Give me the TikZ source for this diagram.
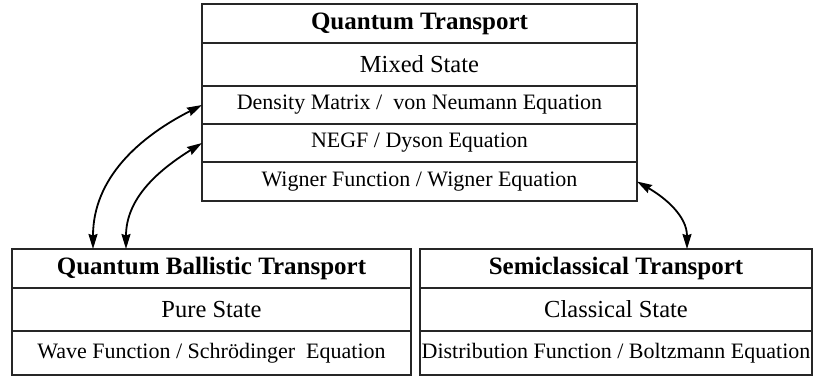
\documentclass[tikz,border=0pt]{standalone}
\usepackage{fontspec}
\setmainfont{Liberation Serif}
\usetikzlibrary{arrows.meta}
\begin{document}
\begin{tikzpicture}[x=1pt,y=1pt,
  >={Stealth[length=15pt,width=9pt,inset=1.5pt]},
  cell/.style={draw=black!85, line width=1.2pt, inner sep=0pt, outer sep=0pt, align=center},
  toprow/.style={cell, minimum width=435pt},
  leftrow/.style={cell, minimum width=399pt},
  rightrow/.style={cell, minimum width=392pt},
  titlef/.style={font=\fontsize{25}{30}\selectfont\bfseries},
  statef/.style={font=\fontsize{24.5}{29}\selectfont},
  eqf/.style={font=\fontsize{22}{26}\selectfont},
  link/.style={<->, line width=1.8pt, black}]
\useasboundingbox (0,0) rectangle (813,376);
% top box
\node[toprow, titlef, minimum height=39pt] (qt1) at (419.5,352.5) {Quantum Transport};
\node[toprow, statef, minimum height=43pt] (qt2) at (419.5,311.5) {Mixed State};
\node[toprow, eqf, minimum height=38pt] (qt3) at (419.5,271) {Density Matrix /\ \ von Neumann Equation};
\node[toprow, eqf, minimum height=38pt] (qt4) at (419.5,233) {NEGF / Dyson Equation};
\node[toprow, eqf, minimum height=39pt] (qt5) at (419.5,194.5) {Wigner Function / Wigner Equation};
% bottom left box
\node[leftrow, titlef, minimum height=39pt] (qb1) at (211.5,107.5) {Quantum Ballistic Transport};
\node[leftrow, statef, minimum height=43pt] (qb2) at (211.5,66.5) {Pure State};
\node[leftrow, eqf, minimum height=44pt] (qb3) at (211.5,23) {Wave Function / Schrödinger\ \ Equation};
% bottom right box
\node[rightrow, titlef, minimum height=39pt] (sc1) at (616,107.5) {Semiclassical Transport};
\node[rightrow, statef, minimum height=43pt] (sc2) at (616,66.5) {Classical State};
\node[rightrow, eqf, minimum height=44pt] (sc3) at (616,23) {Distribution Function / Boltzmann Equation};
% arrow ends on the lower boxes
\coordinate (e1) at (93,127);
\coordinate (e2) at (126,127);
\coordinate (e3) at (687,127);
\draw[link] (qt3.west) to[out=207, in=90] (e1);
\draw[link] (qt4.west) to[out=212, in=90] (e2);
\draw[link] (qt5.east) to[out=-30, in=90] (e3);
\end{tikzpicture}
\end{document}
